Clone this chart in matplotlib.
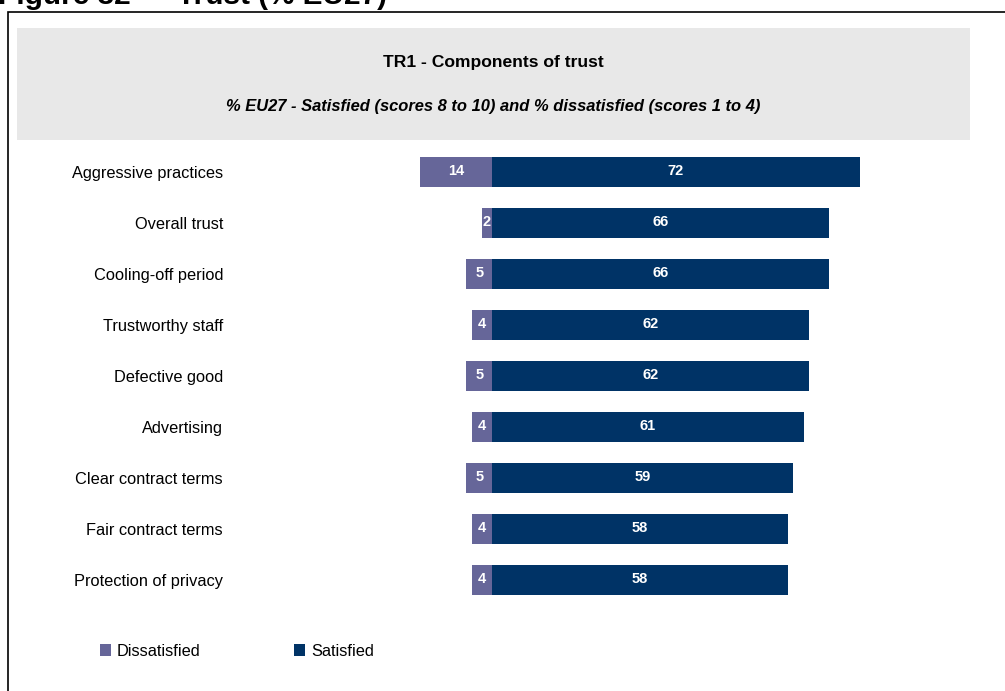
import matplotlib
matplotlib.use("Agg")
import matplotlib.pyplot as plt
from matplotlib.patches import Rectangle, Patch

plt.rcParams['font.family'] = ['Liberation Sans', 'DejaVu Sans']

categories = ["Aggressive practices", "Overall trust", "Cooling-off period",
              "Trustworthy staff", "Defective good", "Advertising",
              "Clear contract terms", "Fair contract terms", "Protection of privacy"]
dissatisfied = [14, 2, 5, 4, 5, 4, 5, 4, 4]
satisfied = [72, 66, 66, 62, 62, 61, 59, 58, 58]

c_dis = "#666699"
c_sat = "#003366"

W, H = 1005, 691
fig = plt.figure(figsize=(W / 100, H / 100), dpi=100)

def fx(px):
    return px / W

def fy(py):
    return 1 - py / H

# outer frame, running off the right and bottom edges
fig.patches.append(Rectangle((fx(8), fy(700)), fx(1010) - fx(8), fy(12) - fy(700),
                             transform=fig.transFigure, fill=False,
                             edgecolor="black", linewidth=1.2, zorder=0))
# grey header band
fig.patches.append(Rectangle((fx(17), fy(140)), fx(970) - fx(17), fy(28) - fy(140),
                             transform=fig.transFigure, facecolor="#e8e8e8",
                             edgecolor="none", zorder=0))

fig.text(fx(-2), fy(4), "Figure 32 \u2014 Trust (% EU27)", fontsize=21.4,
         fontweight="bold", ha="left", va="baseline")
fig.text(fx(493), fy(62), "TR1 - Components of trust", fontsize=12.6,
         fontweight="bold", ha="center", va="center")
fig.text(fx(493), fy(107),
         "% EU27 - Satisfied (scores 8 to 10) and % dissatisfied (scores 1 to 4)",
         fontsize=11.9, fontweight="bold", style="italic", ha="center", va="center")

ax = fig.add_axes([fx(230), fy(610), fx(970) - fx(230), fy(146) - fy(610)])
scale = 5.11  # pixels per percentage point
ax.set_xlim(-(492 - 230) / scale, (970 - 492) / scale)
ax.set_ylim(8 + 30 / 51, -26 / 51)

ypos = list(range(len(categories)))
ax.barh(ypos, [-d for d in dissatisfied], height=30 / 51, color=c_dis)
ax.barh(ypos, satisfied, height=30 / 51, color=c_sat)

for y, d, s in zip(ypos, dissatisfied, satisfied):
    ax.text(-d / 2, y - 0.02, str(d), color="white", fontsize=10.5, fontweight="bold",
            ha="center", va="center")
    ax.text(s / 2, y - 0.02, str(s), color="white", fontsize=10.5, fontweight="bold",
            ha="center", va="center")

ax.set_yticks(ypos)
ax.set_yticklabels(categories, fontsize=11.8)
ax.tick_params(axis="y", length=0, pad=5)
ax.set_xticks([])
for sp in ax.spines.values():
    sp.set_visible(False)
ax.patch.set_alpha(0)

handles = [Patch(facecolor=c_dis, label="Dissatisfied"),
           Patch(facecolor=c_sat, label="Satisfied")]
fig.legend(handles=handles, loc="center left", bbox_to_anchor=(fx(85), fy(651)),
           ncol=2, frameon=False, fontsize=11.8, handlelength=0.7,
           handleheight=0.7, handletextpad=0.35, columnspacing=5.67)

fig.savefig("out.png", dpi=100)
